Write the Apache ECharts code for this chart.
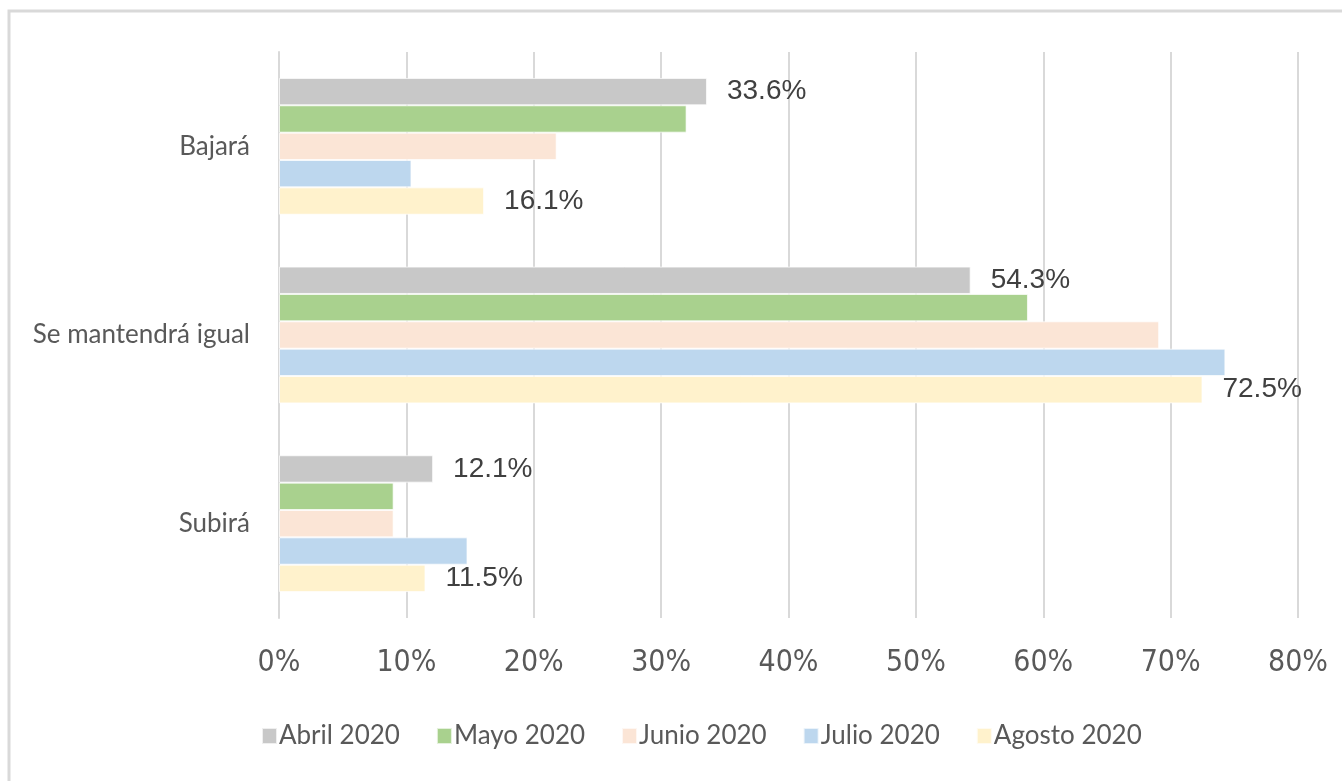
<!DOCTYPE html>
<html>
<head>
<meta charset="utf-8">
<script src="https://cdn.jsdelivr.net/npm/echarts@6/dist/echarts.min.js"></script>
<style>
  html, body { margin: 0; padding: 0; background: #fff; }
  #main { width: 1342px; height: 781px; }
</style>
</head>
<body>
<div id="main"></div>
<script>
var categories = ['Bajará', 'Se mantendrá igual', 'Subirá'];
var seriesNames = ['Abril 2020', 'Mayo 2020', 'Junio 2020', 'Julio 2020', 'Agosto 2020'];
var abril = [33.6, 54.3, 12.1];
var mayo = [32.0, 58.8, 9.0];
var junio = [21.8, 69.1, 9.0];
var julio = [10.4, 74.3, 14.8];
var agosto = [16.1, 72.5, 11.5];
var xTicks = [0, 10, 20, 30, 40, 50, 60, 70, 80];

var colors = ['#c8c8c8', '#a9d18e', '#fbe5d6', '#bdd7ee', '#fff2cc'];
var values = [abril, mayo, junio, julio, agosto];
var labelled = [true, false, false, false, true];

var myChart = echarts.init(document.getElementById('main'));

var series = [];
for (var i = 0; i < seriesNames.length; i++) {
    series.push({
        name: seriesNames[i],
        type: 'bar',
        data: values[i],
        barGap: '0%',
        barCategoryGap: '27.5%',
        itemStyle: {
            color: colors[i],
            borderColor: 'rgba(255,255,255,0.7)',
            borderWidth: 1
        },
        label: {
            show: labelled[i],
            position: 'right',
            distance: 20,
            formatter: function (p) { return p.value.toFixed(1) + '%'; },
            fontFamily: '"Liberation Sans", Arial, sans-serif',
            fontSize: 28,
            color: '#404040'
        }
    });
}

var option = {
    animation: false,
    color: colors,
    graphic: [{
        type: 'rect',
        shape: { x: 9, y: 11, width: 1400, height: 800 },
        style: { fill: 'none', stroke: '#d9d9d9', lineWidth: 3 },
        silent: true
    }],
    grid: {
        left: 279,
        right: 44,
        top: 52,
        bottom: 163
    },
    legend: {
        bottom: 27,
        left: 256,
        itemWidth: 15,
        itemHeight: 16,
        itemGap: 36,
        icon: 'rect',
        textStyle: {
            fontFamily: 'Lato, "Open Sans", sans-serif',
            fontSize: 26,
            color: '#595959',
            padding: [0, 0, 0, -3]
        },
        data: seriesNames
    },
    xAxis: {
        type: 'value',
        min: 0,
        max: 80,
        interval: 10,
        axisLine: { show: false },
        axisTick: { show: false },
        splitLine: { lineStyle: { color: '#d9d9d9', width: 2 } },
        axisLabel: {
            margin: 30,
            formatter: '{value}%',
            fontFamily: '"Liberation Sans Narrow", "DejaVu Sans Condensed", sans-serif',
            fontSize: 30,
            color: '#595959'
        }
    },
    yAxis: {
        type: 'category',
        inverse: true,
        data: categories,
        axisLine: { show: true, lineStyle: { color: '#d9d9d9', width: 2 } },
        axisTick: { show: false },
        axisLabel: {
            margin: 29,
            fontFamily: 'Lato, "Open Sans", sans-serif',
            fontSize: 26,
            color: '#595959'
        }
    },
    series: series
};

myChart.setOption(option);
</script>
</body>
</html>
